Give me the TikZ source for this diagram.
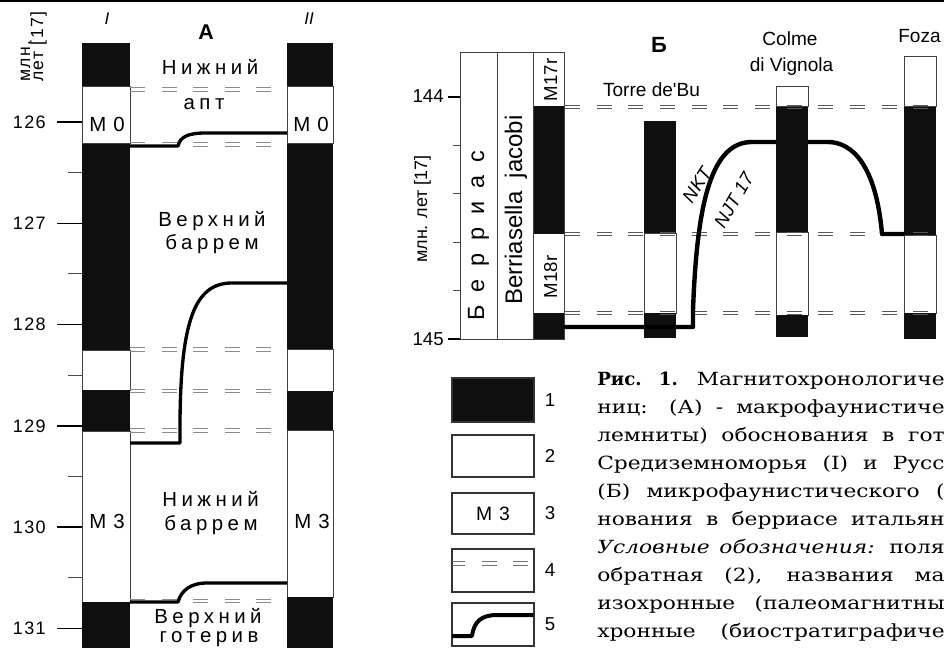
\documentclass[tikz,border=0pt]{standalone}
\usepackage{fontspec}
\setmainfont{DejaVu Serif}
\newfontfamily\ars{Liberation Sans}
\newfontfamily\arsA[LetterSpace=22]{Liberation Sans}
\newfontfamily\arsM[LetterSpace=35]{Liberation Sans}
\newfontfamily\arsN[LetterSpace=8]{Liberation Sans}
\newfontfamily\arsB[LetterSpace=55]{Liberation Sans}
\newfontfamily\capf[FakeStretch=1.2]{DejaVu Serif}
\newfontfamily\capb{DejaVu Serif}
\newcommand\eqpair[4]{%
  \draw[#1] (#2,{#4-1.6}) -- (#3,{#4-1.6});
  \draw[#1] (#2,{#4+1.6}) -- (#3,{#4+1.6});}
\tikzset{
  blk/.style={fill=black!94},
  wht/.style={fill=white, draw=black!75, line width=0.75pt},
  mjtick/.style={line width=1.1pt},
  mntick/.style={line width=0.7pt, draw=black!70},
  eqA/.style={draw=black!45, line width=0.6pt, dash pattern=on 11.25pt off 12.4pt},
  eqB/.style={draw=black!65, line width=0.6pt, dash pattern=on 11.25pt off 12.5pt},
  corA/.style={line width=2.5pt, line join=round},
  corB/.style={line width=3.3pt, line join=round},
  txA/.style={font=\arsA\fontsize{15.3pt}{17pt}\selectfont, inner sep=0, anchor=base},
  txM/.style={font=\arsM\fontsize{15.3pt}{17pt}\selectfont, inner sep=0, anchor=base},
  numA/.style={font=\arsN\fontsize{13.5pt}{16pt}\selectfont, inner sep=0, anchor=east},
  txB/.style={font=\ars\fontsize{14.3pt}{16pt}\selectfont, inner sep=0, anchor=base},
  capl/.style={font=\capf\fontsize{13.6pt}{16pt}\selectfont, inner sep=0, anchor=base west},
  legbox/.style={draw=black!80, line width=1pt},
}
\begin{document}
\begin{tikzpicture}[x=0.75pt,y=-0.75pt]
\useasboundingbox (0,0) rectangle (944,648);
\begin{scope}
\clip (0,0) rectangle (944,648);
% top rule
\draw[line width=1.6pt] (0,1) -- (944,1);

% ===== Panel A =====
% column I
\fill[blk] (82,43) rectangle (130,87);
\draw[wht] (82,87) rectangle (130,144);
\fill[blk] (82,144) rectangle (130,350);
\draw[wht] (82,350) rectangle (130,390);
\fill[blk] (82,390) rectangle (130,431);
\draw[wht] (82,431) rectangle (130,602);
\fill[blk] (82,602) rectangle (130,655);
% column II
\fill[blk] (287,43) rectangle (333,87);
\draw[wht] (287,87) rectangle (333,144);
\fill[blk] (287,144) rectangle (333,349);
\draw[wht] (287,349) rectangle (333,391);
\fill[blk] (287,391) rectangle (333,430);
\draw[wht] (287,430) rectangle (333,597);
\fill[blk] (287,597) rectangle (333,655);

% ticks
\foreach \n/\lab in {0/126,1/127,2/128,3/129,4/130,5/131}{
  \draw[mjtick] (57,{122+101.3*\n}) -- (82,{122+101.3*\n});
  \node[numA] (n\lab) at (46,{122+101.3*\n}) {\lab};
}
\foreach \n in {0,1,2,3,4}{
  \draw[mntick] (68,{122+101.3*(\n+0.5)}) -- (82,{122+101.3*(\n+0.5)});
}
\node[font=\arsN\fontsize{13.2pt}{14pt}\selectfont, rotate=90, anchor=base west, inner sep=0] (axA1) at (30,82) {млн.};
\node[font=\arsN\fontsize{13.2pt}{14pt}\selectfont, rotate=90, anchor=base west, inner sep=0] (axA2) at (43,82) {лет [17]};

% headers
\node[font=\ars\itshape\fontsize{12.75pt}{14pt}\selectfont, anchor=base, inner sep=0] (hI) at (107,25) {I};
\node[font=\ars\itshape\fontsize{12.75pt}{14pt}\selectfont, anchor=base, inner sep=0] (hII) at (309,25) {II};
\node[font=\ars\bfseries\fontsize{16pt}{18pt}\selectfont, anchor=base, inner sep=0] (hA) at (206,40) {А};

% isochrone dashed pairs
\eqpair{eqA}{130}{273}{89.5}
\eqpair{eqA}{130}{273}{144.5}
\eqpair{eqA}{130}{273}{349.3}
\eqpair{eqA}{130}{273}{391}
\eqpair{eqA}{130}{273}{430.3}
\eqpair{eqA}{130}{287}{601}

% stage labels
\node[txA] (s1a) at (210,75) {Нижний};
\node[txA] (s1b) at (204,110) {апт};
\node[txA] (s2a) at (212,227) {Верхний};
\node[txA] (s2b) at (212,250) {баррем};
\node[txA] (s3a) at (210.5,506) {Нижний};
\node[txA] (s3b) at (211,530) {баррем};
\node[txA] (s4a) at (208,623) {Верхний};
\node[txA] (s4b) at (209,642) {готерив};
% chron labels
\node[txM] (m0a) at (107,132) {M0};
\node[txM] (m0b) at (311,132) {M0};
\node[txM] (m3a) at (107,528) {M3};
\node[txM] (m3b) at (312,528) {M3};

% correlation lines (heterochronous)
\coordinate (a1s) at (130,146); \coordinate (a1e) at (287,133);
\draw[corA] (a1s) -- (178,146) .. controls (180,137) and (188,133) .. (205,133) -- (a1e);
\coordinate (a2s) at (130,443); \coordinate (a2e) at (287,283);
\draw[corA] (a2s) -- (180,443) -- (180,420) .. controls (181,320) and (195,283) .. (232,283) -- (a2e);
\coordinate (a3s) at (130,602); \coordinate (a3e) at (287,583);
\draw[corA] (a3s) -- (178,602) .. controls (181,591) and (190,583) .. (207,583) -- (a3e);

% ===== Panel B =====
% main frame
\draw[wht] (460,53) rectangle (564,339);
\draw[black!75, line width=0.75pt] (497,53) -- (497,339) (533,53) -- (533,339);
\fill[blk] (533,106) rectangle (564,234);
\fill[blk] (533,313) rectangle (564,339);
\draw[black!75, line width=0.75pt] (533,53) rectangle (564,339);
% axis ticks
\draw[line width=1.8pt] (448,97) -- (460,97);
\draw[line width=1.8pt] (448,339) -- (460,339);
\foreach \yy in {145.4,193.8,242.2,290.6}{ \draw[mntick] (453,\yy) -- (460,\yy); }
\node[font=\ars\fontsize{14pt}{16pt}\selectfont, anchor=east, inner sep=0] (b144) at (444,96) {144};
\node[font=\ars\fontsize{14pt}{16pt}\selectfont, anchor=east, inner sep=0] (b145) at (444,339) {145};
\node[font=\ars\fontsize{13.5pt}{16pt}\selectfont, rotate=90, anchor=base, inner sep=0] (axB) at (427,209) {млн. лет [17]};
\node[font=\arsB\fontsize{17.6pt}{20pt}\selectfont, rotate=90, anchor=base, inner sep=0] (berr) at (484,236) {Берриас};
\node[font=\ars\fontsize{18pt}{20pt}\selectfont, rotate=90, anchor=base, inner sep=0] (bjac) at (522,210) {Berriasella\ \ jacobi};
\node[font=\ars\fontsize{14pt}{16pt}\selectfont, rotate=90, anchor=base, inner sep=0] (m17) at (557,80) {M17r};
\node[font=\ars\fontsize{14pt}{16pt}\selectfont, rotate=90, anchor=base, inner sep=0] (m18) at (557,277) {M18r};

% Torre de'Bu
\fill[blk] (644,121) rectangle (676,234);
\draw[wht] (644,234) rectangle (676,313);
\fill[blk] (644,313) rectangle (676,338);
% Colme di Vignola
\draw[wht] (776,87) rectangle (808,107);
\fill[blk] (776,107) rectangle (808,233);
\draw[wht] (776,233) rectangle (808,315);
\fill[blk] (776,315) rectangle (808,337);
% Foza
\draw[wht] (904,57) rectangle (936,107);
\fill[blk] (904,107) rectangle (936,236);
\draw[wht] (904,236) rectangle (936,313);
\fill[blk] (904,313) rectangle (936,339);

% isochrones B
\eqpair{eqB}{565}{937}{107}
\eqpair{eqB}{565}{937}{234}
\eqpair{eqB}{565}{937}{313}

% labels B
\node[font=\ars\bfseries\fontsize{16.5pt}{18pt}\selectfont, anchor=base, inner sep=0] (hB) at (659,53) {Б};
\node[txB] (torre) at (651.5,97) {Torre de'Bu};
\node[txB] (colme1) at (790,45.5) {Colme};
\node[txB] (colme2) at (791.5,71.5) {di Vignola};
\node[txB] (foza) at (919.5,43) {Foza};

% heterochronous line B
\coordinate (b1s) at (564,327); \coordinate (b1e) at (776,142);
\draw[corB] (b1s) -- (693,327) -- (693,310) .. controls (697,200) and (712,142) .. (752,142) -- (b1e);
\coordinate (b2s) at (808,142); \coordinate (b2e) at (904,234);
\draw[corB] (b2s) -- (828,142) .. controls (852,142) and (876,165) .. (882,234) -- (b2e);
\node[font=\ars\itshape\fontsize{14pt}{16pt}\selectfont, rotate=57, inner sep=0] (nkt) at (697,185) {NKT};
\node[font=\ars\itshape\fontsize{14pt}{16pt}\selectfont, rotate=60, inner sep=0] (njt) at (734,200) {NJT 17};

% ===== Legend =====
\fill[blk] (452,378) rectangle (534,422);
\draw[legbox] (452,378) rectangle (534,422);
\draw[legbox] (452,435) rectangle (534,477);
\draw[legbox] (452,493) rectangle (534,534);
\node[font=\arsM\fontsize{14.5pt}{16pt}\selectfont, inner sep=0] (lm3) at (493,514) {M3};
\draw[legbox] (452,549) rectangle (534,592);
\draw[eqA, draw=black!55, dash phase=1.5pt] (452,561) -- (534,561);
\draw[eqA, draw=black!55, dash phase=1.5pt] (452,565) -- (534,565);
\draw[legbox] (452,603) rectangle (534,646);
\draw[line width=3pt, line join=round] (452,636) -- (472,636) .. controls (474,621) and (482,615) .. (497,615) -- (533,615);
\foreach \i/\yy in {1/400,2/456,3/513,4/570,5/624}{
  \node[font=\ars\fontsize{14pt}{16pt}\selectfont, inner sep=0] (leg\i) at (550,\yy) {\i};
}

% ===== Caption =====
\node[capl] (c1) at (597,385) {\makebox[260.5pt][s]{{\capb\bfseries Рис. 1.} Магнитохронологиче}};
\node[capl] (c2) at (597,413.1) {\makebox[260.5pt][s]{ниц: (А) - макрофаунистиче}};
\node[capl] (c3) at (597,441.2) {\makebox[260.5pt][s]{лемниты) обоснования в гот}};
\node[capl] (c4) at (597,469.3) {\makebox[260.5pt][s]{Средиземноморья (I) и Русс}};
\node[capl] (c5) at (597,497.4) {\makebox[260.5pt][s]{(Б) микрофаунистического (}};
\node[capl] (c6) at (597,525.5) {\makebox[260.5pt][s]{нования в берриасе итальян}};
\node[capl] (c7) at (597,553.6) {\makebox[260.5pt][s]{\textit{Условные обозначения:} поля}};
\node[capl] (c8) at (597,581.7) {\makebox[260.5pt][s]{обратная (2), названия ма}};
\node[capl] (c9) at (597,609.8) {\makebox[260.5pt][s]{изохронные (палеомагнитны}};
\node[capl] (c10) at (597,637.9) {\makebox[260.5pt][s]{хронные (биостратиграфиче}};
\end{scope}
\end{tikzpicture}
\end{document}
